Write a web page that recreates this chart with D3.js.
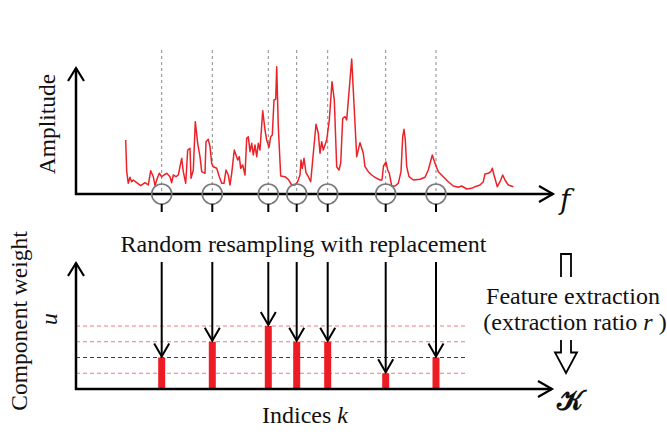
<!DOCTYPE html>
<html>
<head>
<meta charset="utf-8">
<script src="https://cdn.jsdelivr.net/npm/d3@7"></script>
<style>
  html, body { margin: 0; padding: 0; background: #fff; }
  svg text { font-family: "Liberation Serif", "Times New Roman", serif; fill: #111; }
</style>
</head>
<body>
<svg id="chart" width="667" height="434"></svg>
<script>
// Amplitude spectrum: frequency bin and amplitude
const freqBins = [49.7,50.7,52.3,54,55.7,57.3,60.7,64.7,69,72.3,74.7,77.3,79,81.3,83.3,85.7,88,90.7,94,95.7,97.3,100,102.3,104,105.7,107.3,109.7,111.7,114,115,117.3,119.3,121.7,124,125.7,129,130,132.3,134,135.7,137.3,140.7,143.3,145.7,148,150,152.3,154,155.7,158.3,160,161.7,163.3,164.7,166.7,169,170.7,172.3,174,175.7,177.3,179,180.7,182.3,184,186.7,189,190.7,193,194.7,196.3,198,199.7,200.7,202.3,204.7,209,212.3,215.7,219,221.7,224,225,226.3,228,230,232.3,234.7,236.7,240,242.3,244,245.7,247.3,250.7,253.3,256,258.3,260.7,263,264.7,266.7,269,270.7,275.7,280.7,284,287.3,289,292.3,295.7,299,304,306,307.5,310,311.7,313.3,315.7,319,322.3,325,326.7,328,329.3,330.7,333,337.3,344,349,352.3,356.3,359,362.3,367.3,372.3,377.3,382.3,385.7,390.7,395.7,399,404,407.3,409,412.3,414.7,416.3,418,421.3,424,426.7,429,432.3,437.3];
const amplitudes = [54,22.3,10.7,16.7,12.3,14,11.3,8.3,11.3,9,23.3,17.3,8.3,15.7,20.7,17.3,19,20.7,17.3,11.3,19,17.3,19,27.3,35.7,22.3,10.7,44,45.7,15.7,24,72.3,50.7,37.3,22.3,20.7,52.3,54.7,47.3,30.7,27.3,25.7,17.3,10.7,10.7,24,19,9,20.7,44,39,34,37.3,25.7,29,19,55.7,57.3,42.3,50.7,39,49,37.3,50.7,44,83.3,64,54,46.7,57.3,59,94,94.7,127.3,67.3,18,17.3,14.7,9,9,12.3,19,34,25.7,35.7,21.3,17.3,12.3,34,69.7,60.7,40.7,52.3,44,54,74,112.3,94,27.3,24,30.7,75.7,77.3,74,135,37.3,51.3,40.7,27.3,22.3,19,16.7,14,14,28,32,24,20.7,8,8,10.7,22.3,57.3,64.7,54,27.3,17.3,14,14.7,16.7,24,39,30.7,22.3,17.3,12.3,8,6.7,8,5,5.7,7.3,9,12.3,20,20.7,22.3,25.7,19,7.3,12.3,19,14,9,7.3];

// Resampled indices and their component weights
const sampledBins = [85.7, 136.3, 192.3, 220.7, 251.7, 309.7, 360];
const componentWeights = [2, 3, 4, 3, 3, 1, 2];
const weightLevels = [1, 2, 3, 4];

// Labels
const labels = {
  amplitude: "Amplitude",
  weight: "Component weight",
  resample: "Random resampling with replacement",
  feature1: "Feature extraction",
  feature2a: "(extraction ratio ",
  feature2b: "r",
  feature2c: " )",
  indices: "Indices ",
  indicesVar: "k",
  freqVar: "f",
  weightVar: "u",
  setVar: "\u{1D4A6}"
};

const svg = d3.select("#chart");

const x = d3.scaleLinear().domain([0, 477]).range([76, 553]);
const yAmp = d3.scaleLinear().domain([0, 126]).range([194, 68]);
const yW = d3.scaleLinear().domain([0, 4]).range([389, 326]);

const axisW = 2.5;

// Open arrowhead drawn as a chevron
function chevron(g, tipX, tipY, dir, len, half, width) {
  let pts;
  if (dir === "up") pts = [[tipX - half, tipY + len], [tipX, tipY], [tipX + half, tipY + len]];
  else if (dir === "down") pts = [[tipX - half, tipY - len], [tipX, tipY], [tipX + half, tipY - len]];
  else pts = [[tipX - len, tipY - half], [tipX, tipY], [tipX - len, tipY + half]];
  g.append("path").attr("d", d3.line()(pts))
    .attr("fill", "none").attr("stroke", "#000").attr("stroke-width", width)
    .attr("stroke-linejoin", "miter").attr("stroke-linecap", "butt");
}

// ---------- Upper panel: spectrum ----------
const upper = svg.append("g");

// dashed guides at sampled bins
upper.selectAll("line.guide").data(sampledBins).join("line")
  .attr("x1", d => x(d)).attr("x2", d => x(d))
  .attr("y1", 50).attr("y2", yAmp(0))
  .attr("stroke", "#8a8a8a").attr("stroke-width", 1).attr("stroke-dasharray", "3,3");

const spectrum = freqBins.map((f, i) => [f, amplitudes[i]]);
upper.append("path").datum(spectrum)
  .attr("d", d3.line().x(d => x(d[0])).y(d => yAmp(d[1])))
  .attr("fill", "none").attr("stroke", "#ec2229").attr("stroke-width", 1.5)
  .attr("stroke-linejoin", "round");

// axes
upper.append("line").attr("x1", x(0)).attr("x2", x(0)).attr("y1", yAmp(0) + 1).attr("y2", 68)
  .attr("stroke", "#000").attr("stroke-width", axisW);
upper.append("line").attr("x1", x(0) - 1).attr("x2", 553).attr("y1", yAmp(0)).attr("y2", yAmp(0))
  .attr("stroke", "#000").attr("stroke-width", axisW);
chevron(upper, x(0), 68, "up", 13, 8, 2.2);
chevron(upper, 553, yAmp(0), "right", 14, 8, 2.2);

// sample circles
upper.selectAll("circle.sample").data(sampledBins).join("circle")
  .attr("cx", d => x(d)).attr("cy", yAmp(0)).attr("r", 10)
  .attr("fill", "none").attr("stroke", "#7a7a7a").attr("stroke-width", 1.6);

upper.append("text").attr("transform", `translate(55,124) rotate(-90)`)
  .attr("text-anchor", "middle").attr("font-size", 23.5).text(labels.amplitude);
upper.append("text").attr("x", 560).attr("y", 209)
  .style("font-family", '"DejaVu Serif", serif')
  .attr("font-size", 28).attr("font-style", "italic").text(labels.freqVar);

// ---------- Lower panel: component weights ----------
const lower = svg.append("g");

lower.selectAll("line.level").data(weightLevels).join("line")
  .attr("x1", x(0)).attr("x2", 466)
  .attr("y1", d => yW(d)).attr("y2", d => yW(d))
  .attr("stroke", d => d === 2 ? "#8c1c1c" : "#f07a7a")
  .attr("stroke-width", 1.1).attr("stroke-dasharray", "4,3");

lower.selectAll("rect.bar").data(sampledBins).join("rect")
  .attr("x", d => x(d) - 3.5).attr("width", 7)
  .attr("y", (d, i) => yW(componentWeights[i]))
  .attr("height", (d, i) => yW(0) - yW(componentWeights[i]))
  .attr("fill", "#ed1c24");

lower.append("line").attr("x1", x(0)).attr("x2", x(0)).attr("y1", yW(0) + 1).attr("y2", 263)
  .attr("stroke", "#000").attr("stroke-width", axisW);
lower.append("line").attr("x1", x(0) - 1).attr("x2", 552).attr("y1", yW(0)).attr("y2", yW(0))
  .attr("stroke", "#000").attr("stroke-width", axisW);
chevron(lower, x(0), 263, "up", 13, 8, 2.2);
chevron(lower, 552, yW(0), "right", 14, 8, 2.2);

// resampling arrows from the spectrum axis to the bars
sampledBins.forEach((d, i) => {
  const cx = x(d);
  const tipY = yW(componentWeights[i]) - 1;
  lower.append("line").attr("x1", cx).attr("x2", cx).attr("y1", yAmp(0) + 10).attr("y2", 212)
    .attr("stroke", "#000").attr("stroke-width", 2);
  lower.append("line").attr("x1", cx).attr("x2", cx).attr("y1", 262).attr("y2", tipY)
    .attr("stroke", "#000").attr("stroke-width", 2);
  chevron(lower, cx, tipY, "down", 13, 7.5, 2);
});

lower.append("text").attr("x", 303.5).attr("y", 252).attr("text-anchor", "middle")
  .attr("font-size", 24).text(labels.resample);

lower.append("text").attr("transform", `translate(27,321) rotate(-90)`)
  .attr("text-anchor", "middle").attr("font-size", 23.5).text(labels.weight);
lower.append("text").attr("transform", `translate(57,319) rotate(-90)`)
  .attr("text-anchor", "middle").attr("font-size", 23.5).attr("font-style", "italic").text(labels.weightVar);

const idx = lower.append("text").attr("x", 305).attr("y", 423).attr("text-anchor", "middle").attr("font-size", 24);
idx.append("tspan").text(labels.indices);
idx.append("tspan").attr("font-style", "italic").text(labels.indicesVar);

lower.append("text").attr("x", 570).attr("y", 410).attr("text-anchor", "middle")
  .attr("font-size", 28).attr("font-weight", "bold").text(labels.setVar);

// ---------- Feature extraction note with hollow arrow ----------
const note = svg.append("g");
note.append("path")
  .attr("d", d3.line()([[561, 277], [561, 254], [571, 254], [571, 277]]))
  .attr("fill", "none").attr("stroke", "#000").attr("stroke-width", 1.8);
note.append("path")
  .attr("d", d3.line()([[561, 340], [561, 352.5], [555, 352.5], [566, 373], [577, 352.5], [571, 352.5], [571, 340]]))
  .attr("fill", "#fff").attr("stroke", "#000").attr("stroke-width", 1.8).attr("stroke-linejoin", "miter");

note.append("text").attr("x", 573).attr("y", 304).attr("text-anchor", "middle")
  .attr("font-size", 24).text(labels.feature1);
const ratio = note.append("text").attr("x", 575).attr("y", 330).attr("text-anchor", "middle").attr("font-size", 24);
ratio.append("tspan").text(labels.feature2a);
ratio.append("tspan").attr("font-style", "italic").text(labels.feature2b);
ratio.append("tspan").text(labels.feature2c);
</script>
</body>
</html>
